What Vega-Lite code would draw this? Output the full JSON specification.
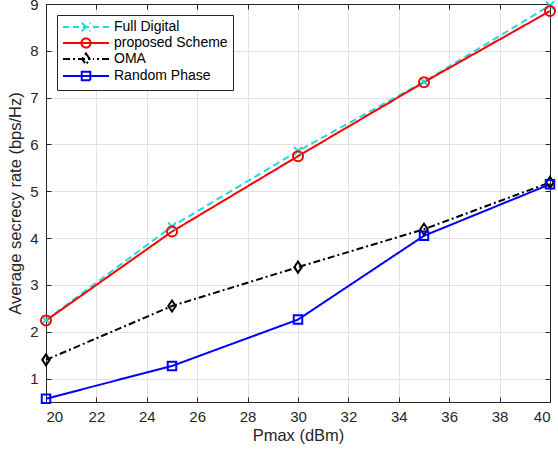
{
  "$schema": "https://vega.github.io/schema/vega-lite/v6.json",
  "width": 504,
  "height": 398,
  "autosize": {"type": "none"},
  "padding": {"left": 46, "top": 4, "right": 8, "bottom": 53},
  "background": "white",
  "view": {"stroke": null},
  "config": {
    "font": "Liberation Sans",
    "axis": {
      "labelFont": "Liberation Sans",
      "titleFont": "Liberation Sans",
      "labelColor": "#262626",
      "titleColor": "#262626",
      "domainColor": "#262626",
      "tickColor": "#262626",
      "gridColor": "#e2e2e2",
      "labelFontSize": 15,
      "titleFontSize": 16.5,
      "titleFontWeight": "normal",
      "tickSize": -5,
      "domainWidth": 1
    }
  },
  "data": {
    "values": [
      {"series": "Full Digital", "pmax": 20, "rate": 2.25},
      {"series": "Full Digital", "pmax": 25, "rate": 4.25},
      {"series": "Full Digital", "pmax": 30, "rate": 5.86},
      {"series": "Full Digital", "pmax": 35, "rate": 7.34},
      {"series": "Full Digital", "pmax": 40, "rate": 8.97},
      {"series": "proposed Scheme", "pmax": 20, "rate": 2.24},
      {"series": "proposed Scheme", "pmax": 25, "rate": 4.14},
      {"series": "proposed Scheme", "pmax": 30, "rate": 5.75},
      {"series": "proposed Scheme", "pmax": 35, "rate": 7.33},
      {"series": "proposed Scheme", "pmax": 40, "rate": 8.85},
      {"series": "OMA", "pmax": 20, "rate": 1.4},
      {"series": "OMA", "pmax": 25, "rate": 2.55},
      {"series": "OMA", "pmax": 30, "rate": 3.38},
      {"series": "OMA", "pmax": 35, "rate": 4.19},
      {"series": "OMA", "pmax": 40, "rate": 5.19},
      {"series": "Random Phase", "pmax": 20, "rate": 0.57},
      {"series": "Random Phase", "pmax": 25, "rate": 1.27},
      {"series": "Random Phase", "pmax": 30, "rate": 2.26},
      {"series": "Random Phase", "pmax": 35, "rate": 4.05},
      {"series": "Random Phase", "pmax": 40, "rate": 5.15}
    ]
  },
  "resolve": {"axis": {"x": "independent", "y": "independent"}},
  "layer": [
    {
      "mark": {"type": "line", "strokeWidth": 2},
      "encoding": {
        "x": {
          "field": "pmax", "type": "quantitative",
          "scale": {"domain": [20, 40], "nice": false},
          "axis": {"values": [20, 22, 24, 26, 28, 30, 32, 34, 36, 38, 40], "title": "Pmax (dBm)", "labelPadding": 12, "titlePadding": 3, "grid": true}
        },
        "y": {
          "field": "rate", "type": "quantitative",
          "scale": {"domain": [0.5, 9], "nice": false, "zero": false},
          "axis": {"values": [1, 2, 3, 4, 5, 6, 7, 8, 9], "title": "Average secrecy rate (bps/Hz)", "labelPadding": 13, "titlePadding": 6, "grid": true}
        },
        "color": {
          "field": "series", "type": "nominal",
          "scale": {"domain": ["Full Digital", "proposed Scheme", "OMA", "Random Phase"], "range": ["#20D8E0", "#FF0000", "#000000", "#0000FF"]},
          "legend": {
            "title": null,
            "orient": "top-left",
            "offset": 11,
            "padding": 5,
            "fillColor": "white",
            "strokeColor": "#262626",
            "labelFont": "Liberation Sans",
            "labelFontSize": 14,
            "labelColor": "#000000",
            "rowPadding": -3,
            "symbolSize": 100,
            "symbolStrokeWidth": 2,
            "symbolOffset": 17,
            "labelOffset": 21,
            "encode": {
              "symbols": {
                "update": {
                  "size": {"value": 100},
                  "fill": {"value": "transparent"},
                  "shape": {"signal": "datum.value === 'Full Digital' ? 'M-4.6,0H-3.4M-2.6,0H-1.4M-0.6,0H0.6M1.4,0H2.6M3.4,0H4.6M-0.85,-0.85L0.85,0.85M-0.85,0.85L0.85,-0.85' : datum.value === 'proposed Scheme' ? 'M-4.6,0H4.6M-0.92,0A0.92,0.92 0 1,1 0.92,0A0.92,0.92 0 1,1 -0.92,0' : datum.value === 'OMA' ? 'M-4.6,0H-3.2M-2.6,0H-2.2M-1.6,0H1.6M2.2,0H2.6M3.2,0H4.6M0,-1.1L0.75,0L0,1.1L-0.75,0Z' : 'M-4.6,0H4.6M-0.85,-0.85H0.85V0.85H-0.85Z'"},
                  "strokeDash": {"value": [1, 0]}
                }
              }
            }
          }
        },
        "strokeDash": {
          "field": "series", "type": "nominal",
          "scale": {"domain": ["Full Digital", "proposed Scheme", "OMA", "Random Phase"], "range": [[7, 4], [1, 0], [7, 3, 2, 3], [1, 0]]},
          "legend": null
        }
      }
    },
    {
      "transform": [{"filter": "datum.series === 'Full Digital'"}],
      "mark": {"type": "point", "filled": false, "strokeWidth": 2, "size": 100, "opacity": 1, "color": "#20D8E0", "shape": "M-0.8,-0.8L0.8,0.8M-0.8,0.8L0.8,-0.8"},
      "encoding": {
        "x": {
          "field": "pmax", "type": "quantitative",
          "axis": {"orient": "top", "values": [20, 22, 24, 26, 28, 30, 32, 34, 36, 38, 40], "labels": false, "title": null, "grid": false}
        },
        "y": {
          "field": "rate", "type": "quantitative",
          "axis": {"orient": "right", "values": [1, 2, 3, 4, 5, 6, 7, 8, 9], "labels": false, "title": null, "grid": false}
        }
      }
    },
    {
      "transform": [{"filter": "datum.series === 'proposed Scheme'"}],
      "mark": {"type": "point", "filled": false, "strokeWidth": 2, "size": 100, "opacity": 1, "color": "#FF0000", "shape": "circle"},
      "encoding": {
        "x": {"field": "pmax", "type": "quantitative", "axis": null},
        "y": {"field": "rate", "type": "quantitative", "axis": null}
      }
    },
    {
      "transform": [{"filter": "datum.series === 'OMA'"}],
      "mark": {"type": "point", "filled": false, "strokeWidth": 2, "size": 100, "opacity": 1, "color": "#000000", "shape": "M0,-1.1L0.75,0L0,1.1L-0.75,0Z"},
      "encoding": {
        "x": {"field": "pmax", "type": "quantitative", "axis": null},
        "y": {"field": "rate", "type": "quantitative", "axis": null}
      }
    },
    {
      "transform": [{"filter": "datum.series === 'Random Phase'"}],
      "mark": {"type": "point", "filled": false, "strokeWidth": 2, "size": 100, "opacity": 1, "color": "#0000FF", "shape": "M-0.85,-0.85H0.85V0.85H-0.85Z"},
      "encoding": {
        "x": {"field": "pmax", "type": "quantitative", "axis": null},
        "y": {"field": "rate", "type": "quantitative", "axis": null}
      }
    }
  ]
}
